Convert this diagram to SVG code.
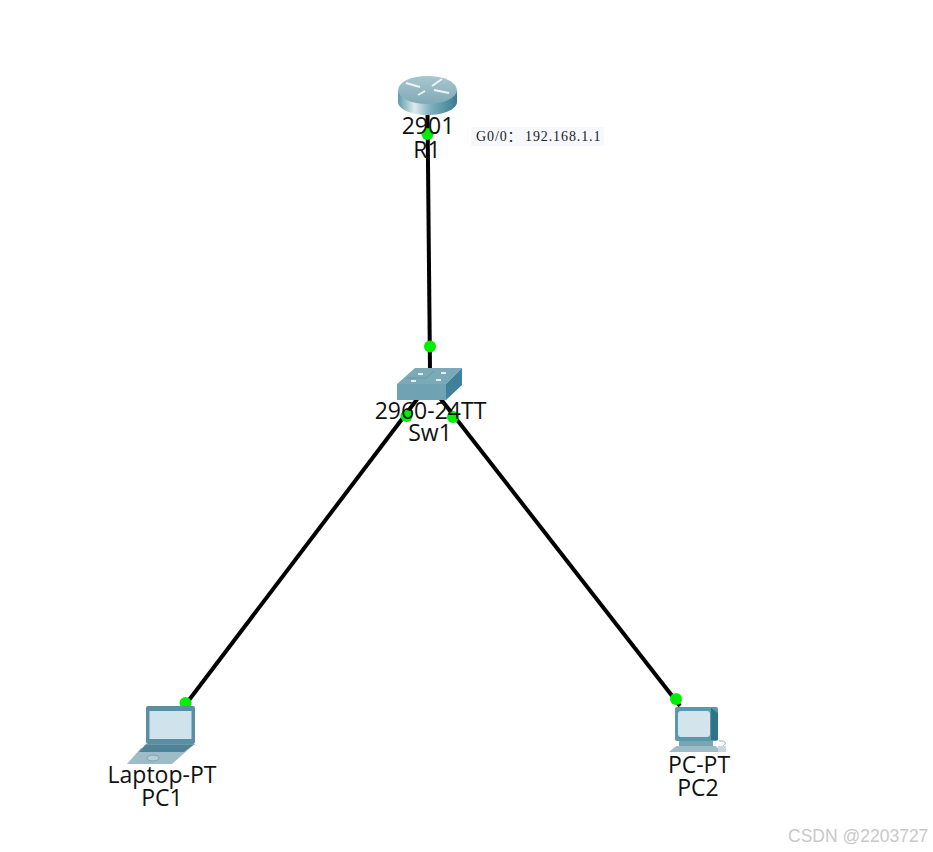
<svg xmlns="http://www.w3.org/2000/svg" width="933" height="852" viewBox="0 0 933 852">
<style>
.lbl{font-family:"Open Sans","DejaVu Sans",sans-serif;font-size:23px;fill:#111;text-anchor:middle}
.link{stroke:#000;stroke-width:4;fill:none}
.dot{fill:#00ee00}
.note{font-family:"Liberation Serif","Noto Sans CJK SC",serif;font-size:14px;fill:#222;letter-spacing:.9px}
.wm{font-family:"Liberation Sans",sans-serif;font-size:17.500px;fill:#c8c8c8}
</style>
<defs>
<linearGradient id="rside" x1="0" x2="1" y1="0" y2="0">
<stop offset="0" stop-color="#5d9bab"/><stop offset=".28" stop-color="#dcebee"/><stop offset=".55" stop-color="#7fb0bd"/><stop offset="1" stop-color="#3a7c90"/>
</linearGradient>
<linearGradient id="rtop" x1="0" x2="0" y1="0" y2="1">
<stop offset="0" stop-color="#a9c6cf"/><stop offset="1" stop-color="#7fa9b6"/>
</linearGradient>
</defs>
<rect width="933" height="852" fill="#fff"/>
<g id="connectors">
<line class="link" x1="427.500" y1="112" x2="430" y2="370"/>
<line class="link" x1="418" y1="398" x2="186" y2="704"/>
<line class="link" x1="440" y1="398" x2="680" y2="706"/>
<circle class="dot" cx="427.500" cy="134" r="6"/>
<circle class="dot" cx="430" cy="346.500" r="6"/>
<circle class="dot" cx="406.500" cy="416" r="6"/>
<circle class="dot" cx="453" cy="417" r="6"/>
<circle class="dot" cx="185.500" cy="703" r="6"/>
<circle class="dot" cx="676" cy="699" r="6"/>
</g>
<g id="R1">
<path d="M398 91V102C398 109 411 115 427.500 115S457 109 457 102V91Z" fill="url(#rside)"/>
<ellipse cx="427.500" cy="90" rx="29.500" ry="14" fill="url(#rtop)"/>
<g stroke="#edf4f6" stroke-width="2" fill="none">
<path d="M406 83L420 87M434 90L449 93M432 86L442 79M425 91L418 95"/>
</g>
<text class="lbl" x="428" y="134">2901</text>
<text class="lbl" x="427" y="158">R1</text>
</g>
<g id="note">
<rect x="471" y="127" width="133" height="19" fill="#f6f8fe"/>
<text class="note" x="476" y="141">G0/0：<tspan x="525">192.168.1.1</tspan></text>
</g>
<g id="Sw1">
<path d="M397 384L415 368H462L446 384Z" fill="#7ba9b8"/>
<path d="M397 384H446V400H397Z" fill="#6fa3b4"/>
<path d="M446 384L462 368V385L446 400Z" fill="#3f8198"/>
<path d="M418 374h5M441 373h5M411 381h5M436 380h5" stroke="#e4eef1" stroke-width="2"/>
<path d="M407 378L426 378L434 371" stroke="#6a98a8" fill="none"/>
<text class="lbl" x="430.500" y="419">2960-24TT</text>
<text class="lbl" x="430" y="441">Sw1</text>
</g>
<g id="PC1">
<rect x="146" y="706" width="49" height="38" rx="2" fill="#5b8ea2"/>
<rect x="149.500" y="711" width="42" height="28" fill="#cfe3ec"/>
<path d="M146 744H195L184 752H141Z" fill="#6a97a8"/>
<path d="M141 748H190L172 764H127Z" fill="#9dbcc7"/>
<path d="M145 745H193L184 752H139Z" fill="#4f8296"/>
<ellipse cx="153" cy="758" rx="6" ry="3" fill="#b9cfd7" stroke="#7fa0ad"/>
<text class="lbl" x="162" y="783">Laptop-PT</text>
<text class="lbl" x="162" y="806">PC1</text>
</g>
<g id="PC2">
<rect x="675" y="707" width="43" height="34" rx="2" fill="#5a98ac"/>
<path d="M711 708L718 713V740H711Z" fill="#2f7389"/>
<rect x="678" y="711" width="32" height="26" rx="3" fill="#d4e4ec"/>
<rect x="679" y="741" width="34" height="5" fill="#7aa6b4"/>
<path d="M676 746H716L721 752H669Z" fill="#9dbcc7"/>
<path d="M719 741C726 740 727 744 723 746" stroke="#8fb0bc" fill="none"/>
<rect x="718" y="746" width="8" height="6" fill="#c7d8de"/>
<text class="lbl" x="699" y="773">PC-PT</text>
<text class="lbl" x="698" y="796">PC2</text>
</g>
<text class="wm" x="788" y="842">CSDN @2203727</text>
</svg>
